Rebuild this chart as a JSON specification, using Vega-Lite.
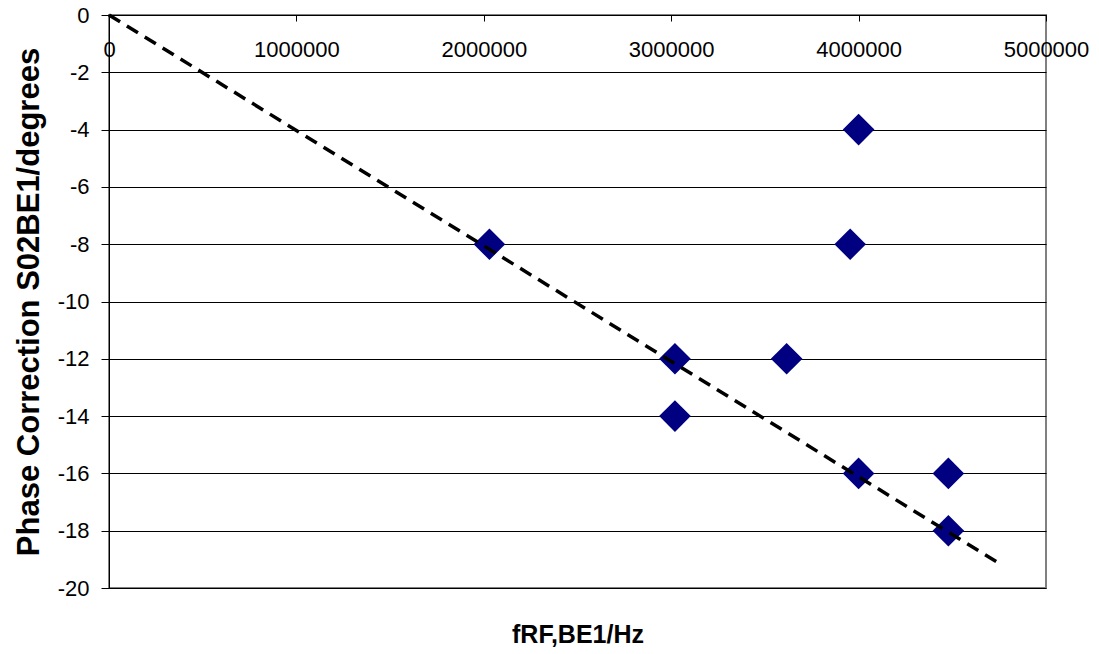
{
  "$schema": "https://vega.github.io/schema/vega-lite/v6.json",
  "autosize": "none",
  "width": 937,
  "height": 573,
  "padding": {"left": 109, "top": 15, "right": 53, "bottom": 66},
  "background": "white",
  "config": {
    "font": "Liberation Sans",
    "view": {"stroke": "#808080", "strokeWidth": 2}
  },
  "datasets": {
    "points": [
      {"freq": 2030000, "phase": -8},
      {"freq": 3020000, "phase": -12},
      {"freq": 3020000, "phase": -14},
      {"freq": 3616000, "phase": -12},
      {"freq": 3955000, "phase": -8},
      {"freq": 4000000, "phase": -4},
      {"freq": 4000000, "phase": -16},
      {"freq": 4479000, "phase": -16},
      {"freq": 4479000, "phase": -18}
    ],
    "trend": [
      {"freq": 0, "phase": 0},
      {"freq": 4765000, "phase": -19.2}
    ]
  },
  "layer": [
    {
      "data": {"name": "points"},
      "mark": {"type": "point", "shape": "diamond", "filled": true, "color": "#000080", "opacity": 1, "size": 1000},
      "encoding": {
        "x": {
          "field": "freq", "type": "quantitative",
          "scale": {"domain": [0, 5000000], "nice": false, "zero": false},
          "axis": {
            "orient": "bottom", "offset": -573, "title": null,
            "values": [0, 1000000, 2000000, 3000000, 4000000, 5000000],
            "labelExpr": "toString(datum.value)", "grid": false,
            "domainColor": "black", "domainWidth": 1,
            "tickColor": "black", "tickSize": 6, "tickWidth": 1,
            "labelFont": "Liberation Sans", "labelFontSize": 22, "labelColor": "black",
            "labelPadding": 18, "labelFlush": false, "labelOverlap": false
          }
        },
        "y": {
          "field": "phase", "type": "quantitative",
          "scale": {"domain": [-20, 0], "nice": false},
          "axis": {
            "title": "Phase Correction S02BE1/degrees",
            "values": [-20, -18, -16, -14, -12, -10, -8, -6, -4, -2, 0],
            "labelExpr": "toString(datum.value)",
            "grid": true, "gridColor": "black", "gridWidth": 1, "gridOpacity": 1,
            "domainColor": "black", "domainWidth": 1,
            "tickColor": "black", "tickSize": 8, "tickWidth": 1,
            "labelFont": "Liberation Sans", "labelFontSize": 22, "labelColor": "black",
            "labelPadding": 12, "labelFlush": false, "labelOverlap": false,
            "titleFont": "Liberation Sans", "titleFontSize": 31, "titleFontWeight": "bold",
            "titleColor": "black", "titlePadding": 12
          }
        }
      }
    },
    {
      "data": {"name": "trend"},
      "mark": {"type": "line", "color": "black", "strokeWidth": 3.5, "strokeDash": [13, 8]},
      "encoding": {
        "x": {
          "field": "freq", "type": "quantitative",
          "axis": {
            "orient": "bottom", "title": "fRF,BE1/Hz",
            "domain": false, "ticks": false, "labels": false, "grid": false,
            "titleFont": "Liberation Sans", "titleFontSize": 25, "titleFontWeight": "bold",
            "titleColor": "black", "titlePadding": 34
          }
        },
        "y": {
          "field": "phase", "type": "quantitative",
          "axis": {
            "title": "Phase Correction S02BE1/degrees",
            "values": [-20, -18, -16, -14, -12, -10, -8, -6, -4, -2, 0],
            "labelExpr": "toString(datum.value)",
            "grid": true, "gridColor": "black", "gridWidth": 1, "gridOpacity": 1,
            "domainColor": "black", "domainWidth": 1,
            "tickColor": "black", "tickSize": 8, "tickWidth": 1,
            "labelFont": "Liberation Sans", "labelFontSize": 22, "labelColor": "black",
            "labelPadding": 12, "labelFlush": false, "labelOverlap": false,
            "titleFont": "Liberation Sans", "titleFontSize": 31, "titleFontWeight": "bold",
            "titleColor": "black", "titlePadding": 12
          }
        }
      }
    }
  ],
  "resolve": {"axis": {"x": "independent"}}
}
